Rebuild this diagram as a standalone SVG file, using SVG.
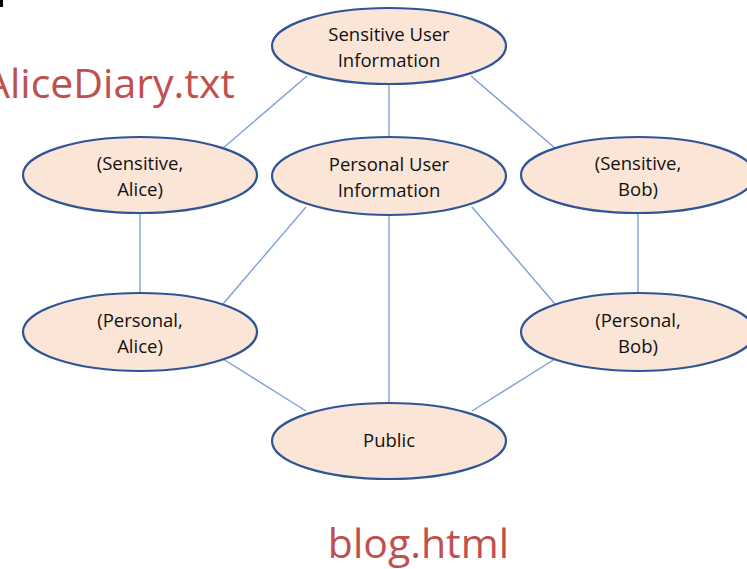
<svg xmlns="http://www.w3.org/2000/svg" width="747" height="569" viewBox="0 0 747 569">
<style>
.node ellipse{fill:#FBE5D6;stroke:#2F5597;stroke-width:2.2}
.node text{font-family:"Open Sans","Liberation Sans",sans-serif;font-size:18.5px;fill:#111;text-anchor:middle}
.edges line{stroke:#7FA1D4;stroke-width:1.4}
.red{font-family:"Open Sans","Liberation Sans",sans-serif;font-size:41px;fill:#C0504D}
</style>
<rect width="747" height="569" fill="#fff"/>
<rect x="0" y="0" width="3" height="7" fill="#000"/>
<g class="edges">
<line x1="389" y1="84" x2="389" y2="137"/>
<line x1="307" y1="76" x2="222" y2="149"/>
<line x1="471" y1="76" x2="556" y2="149"/>
<line x1="140" y1="213" x2="140" y2="293"/>
<line x1="638" y1="213" x2="638" y2="293"/>
<line x1="306" y1="207" x2="223" y2="304"/>
<line x1="472" y1="207" x2="555" y2="304"/>
<line x1="389" y1="215" x2="389" y2="403"/>
<line x1="223" y1="359" x2="306" y2="411"/>
<line x1="555" y1="359" x2="472" y2="411"/>
</g>
<g id="sensitive-user" class="node"><ellipse cx="389" cy="46" rx="117" ry="38"/><text x="389" y="41">Sensitive User</text><text x="389" y="67">Information</text></g>
<g id="sensitive-alice" class="node"><ellipse cx="140" cy="175" rx="117" ry="38"/><text x="140" y="170">(Sensitive,</text><text x="140" y="196">Alice)</text></g>
<g id="personal-user" class="node"><ellipse cx="389" cy="176" rx="117" ry="39"/><text x="389" y="171">Personal User</text><text x="389" y="197">Information</text></g>
<g id="sensitive-bob" class="node"><ellipse cx="638" cy="175" rx="117" ry="38"/><text x="638" y="170">(Sensitive,</text><text x="638" y="196">Bob)</text></g>
<g id="personal-alice" class="node"><ellipse cx="140" cy="332" rx="117" ry="39"/><text x="140" y="327">(Personal,</text><text x="140" y="353">Alice)</text></g>
<g id="personal-bob" class="node"><ellipse cx="638" cy="332" rx="117" ry="39"/><text x="638" y="327">(Personal,</text><text x="638" y="353">Bob)</text></g>
<g id="public" class="node"><ellipse cx="389" cy="441" rx="117" ry="38"/><text x="389" y="447">Public</text></g>
<text class="red" x="235" y="98" text-anchor="end">AliceDiary.txt</text>
<text class="red" x="509" y="558" text-anchor="end">blog.html</text>
</svg>
